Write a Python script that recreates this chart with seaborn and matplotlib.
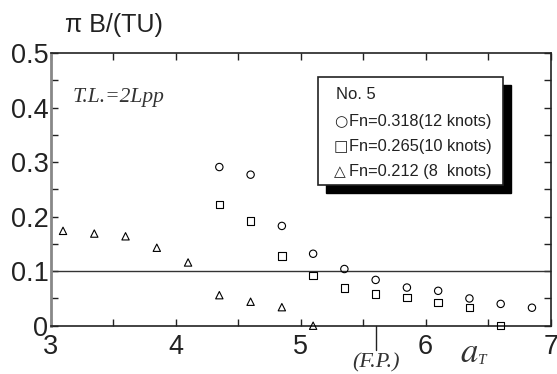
import matplotlib
matplotlib.use("Agg")
import matplotlib.pyplot as plt
from matplotlib.patches import Rectangle
from matplotlib.ticker import MultipleLocator
import pandas as pd
import seaborn as sns

# a_T positions and pi*B/(TU) values
x_12kn = [4.35, 4.6, 4.85, 5.1, 5.35, 5.6, 5.85, 6.1, 6.35, 6.6, 6.85]
y_12kn = [0.291, 0.277, 0.183, 0.132, 0.104, 0.084, 0.070, 0.064, 0.050, 0.040, 0.033]

x_10kn = [4.35, 4.6, 4.85, 5.1, 5.35, 5.6, 5.85, 6.1, 6.35, 6.6]
y_10kn = [0.222, 0.192, 0.128, 0.092, 0.069, 0.058, 0.052, 0.043, 0.034, 0.0]

x_8kn = [3.1, 3.35, 3.6, 3.85, 4.1, 4.35, 4.6, 4.85, 5.1]
y_8kn = [0.174, 0.169, 0.164, 0.143, 0.116, 0.056, 0.044, 0.034, 0.0]

legend_title = "No. 5"
legend_glyphs = ["\u25cb", "\u25a1", "\u25b3"]
legend_labels = ["Fn=0.318(12 knots)", "Fn=0.265(10 knots)", "Fn=0.212 (8  knots)"]

x_ticks = [3, 4, 5, 6, 7]
y_ticks = [0, 0.1, 0.2, 0.3, 0.4, 0.5]
y_tick_labels = ["0", "0.1", "0.2", "0.3", "0.4", "0.5"]


def main():
    sns.set_theme(style="white")
    plt.rcParams['font.family'] = ['Liberation Sans', 'DejaVu Sans']

    fig = plt.figure(figsize=(5.57, 3.74), dpi=100)
    ax = fig.add_axes([0.0907, 0.1291, 0.898, 0.729])

    series = [(x_12kn, y_12kn, "o"), (x_10kn, y_10kn, "s"), (x_8kn, y_8kn, "^")]
    for xs, ys, m in series:
        df = pd.DataFrame({"aT": xs, "val": ys})
        sns.scatterplot(data=df, x="aT", y="val", marker=m, s=28,
                        facecolor="none", edgecolor="black", linewidth=0.8,
                        ax=ax, clip_on=False, zorder=3)

    ax.axhline(0.1, color="#333333", lw=1.0, zorder=1)

    ax.set_xlim(3, 7)
    ax.set_ylim(0, 0.5)
    ax.set_xticks(x_ticks)
    ax.set_yticks(y_ticks)
    ax.set_yticklabels(y_tick_labels)
    ax.xaxis.set_minor_locator(MultipleLocator(0.5))
    ax.yaxis.set_minor_locator(MultipleLocator(0.05))
    ax.tick_params(which="both", direction="in", top=True, right=True,
                   bottom=True, left=True, colors="#222222",
                   labelcolor="#222222", labelsize=19.5, pad=1.5)
    ax.tick_params(which="major", length=5, width=1)
    ax.tick_params(which="minor", length=5, width=1)
    ax.tick_params(axis="x", pad=6)
    ax.set_xlabel("")
    ax.set_ylabel("")
    for side in ["top", "right", "bottom"]:
        ax.spines[side].set_color("#222222")
        ax.spines[side].set_linewidth(1.2)
    ax.spines["left"].set_color("#888888")
    ax.spines["left"].set_linewidth(2)

    # legend box with a solid shadow
    ax.add_patch(Rectangle((5.202, 0.2433), 1.484, 0.198, transform=ax.transData,
                           facecolor="black", edgecolor="black", zorder=4,
                           clip_on=False))
    ax.add_patch(Rectangle((5.138, 0.258), 1.484, 0.198, transform=ax.transData,
                           facecolor="white", edgecolor="#222222", lw=1.2,
                           zorder=5, clip_on=False))
    ax.text(5.28, 0.4233, legend_title, fontsize=12, color="#222222",
            va="center", ha="left", zorder=6)
    for i, (g, lab) in enumerate(zip(legend_glyphs, legend_labels)):
        yy = 0.374 - i * 0.0458
        ax.text(5.265, yy, g, fontsize=11, color="#222222", va="center",
                ha="left", zorder=6, family="DejaVu Sans")
        ax.text(5.39, yy, lab, fontsize=11.8, color="#222222", va="center",
                ha="left", zorder=6)

    ax.text(3.18, 0.419, "T.L.=2Lpp", fontsize=15.5, style="italic",
            family="Liberation Serif", color="#333333", va="center")

    # F.P. marker below the axis
    ax.plot([5.6, 5.6], [0, -0.045], color="#222222", lw=1.0, clip_on=False)
    ax.text(5.6, -0.068, "(F.P.)", fontsize=16, style="italic",
            family="Liberation Serif", color="#333333", ha="center", va="center")

    fig.text(0.843, 0.014, "$a$", fontsize=25, color="#333333", ha="center",
             va="bottom", math_fontfamily="stix")
    fig.text(0.859, 0.02, "T", fontsize=11, style="italic", family="Liberation Serif",
             color="#333333", ha="left", va="bottom")

    fig.text(0.117, 0.9, "\u03c0 B/(TU)", fontsize=18, color="#222222",
             ha="left", va="bottom")

    fig.savefig("out.png", dpi=100)
    plt.close(fig)


if __name__ == "__main__":
    main()
